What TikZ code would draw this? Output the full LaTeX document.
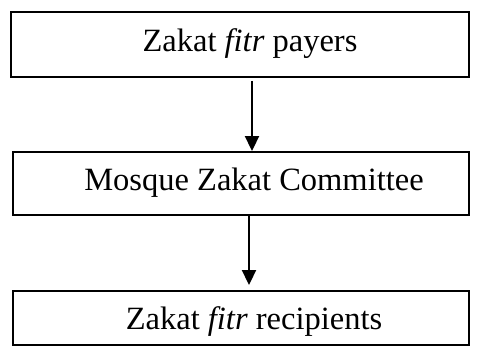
\documentclass[tikz,border=0pt]{standalone}
\usepackage{fontspec}
\setmainfont{Liberation Serif}
\usetikzlibrary{arrows.meta}
\begin{document}
\begin{tikzpicture}[x=1pt,y=-1pt,
  box/.style={draw,line width=1.9pt,inner sep=0pt,rectangle},
  lbl/.style={font=\fontsize{32.5}{38}\selectfont,inner sep=0pt},
  arr/.style={line width=1.9pt,-{Triangle[width=14pt,length=15pt]}}]
\useasboundingbox (0,0) rectangle (486,351);
\node[box,minimum width=458pt,minimum height=65pt] (b1) at (240,44.5) {};
\node[box,minimum width=456pt,minimum height=63pt] (b2) at (241,183.5) {};
\node[box,minimum width=456pt,minimum height=54pt] (b3) at (241,318) {};
\node[lbl] (t1) at (250,44) {Zakat \textit{fitr} payers};
\node[lbl] (t2) at (254,183) {Mosque Zakat Committee};
\node[lbl] (t3) at (254,322) {Zakat \textit{fitr} recipients};
\draw[arr,shorten <=3pt] ([xshift=12pt]b1.south) -- ([xshift=11pt]b2.north);
\draw[arr,shorten >=5pt] ([xshift=8pt]b2.south) -- ([xshift=8pt]b3.north);
\end{tikzpicture}
\end{document}
